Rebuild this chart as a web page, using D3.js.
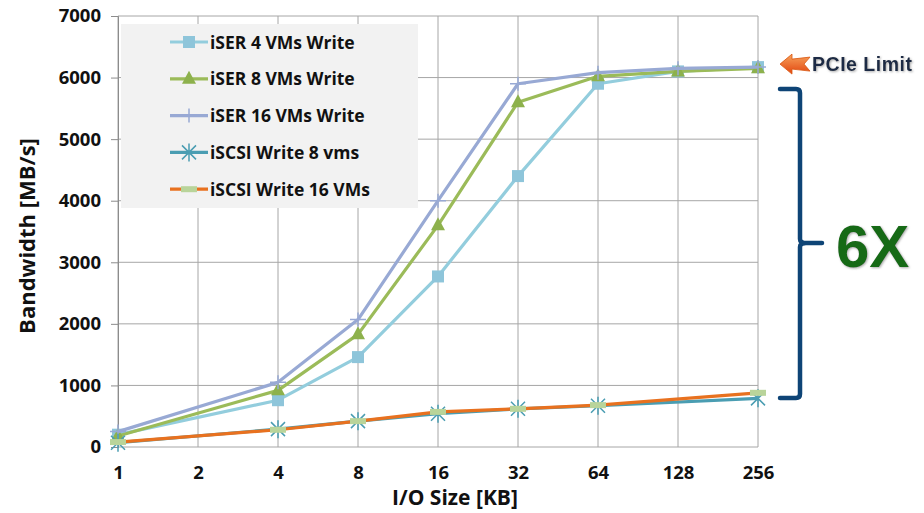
<!DOCTYPE html>
<html>
<head>
<meta charset="utf-8">
<script src="https://cdn.jsdelivr.net/npm/d3@7"></script>
<style>
  body { margin: 0; background: #fff; }
  svg { display: block; font-family: "Open Sans", "Lato", sans-serif; }
</style>
</head>
<body>
<div id="chart"></div>
<script>
// categories (I/O size KB) and series values (MB/s); null = no point measured
const sizes = ["1", "2", "4", "8", "16", "32", "64", "128", "256"];
const iser4 = [200, null, 760, 1460, 2770, 4400, 5900, 6100, 6170];
const iser8 = [180, null, 920, 1830, 3600, 5600, 6020, 6100, 6150];
const iser16 = [250, null, 1050, 2070, 4000, 5900, 6080, 6150, 6170];
const iscsi8 = [70, null, 290, 420, 540, 620, 670, null, 790];
const iscsi16 = [80, null, 280, 420, 570, 620, 680, null, 880];
const yTicks = [0, 1000, 2000, 3000, 4000, 5000, 6000, 7000];

const series = [
  { name: "iSER 4 VMs Write", values: iser4, color: "#93CDDD", marker: "square", mcolor: "#8EC5DA" },
  { name: "iSER 8 VMs Write", values: iser8, color: "#9BBB59", marker: "triangle", mcolor: "#8DB14C" },
  { name: "iSER 16 VMs Write", values: iser16, color: "#98A9D4", marker: "plus", mcolor: "#98A9D4" },
  { name: "iSCSI Write 8 vms", values: iscsi8, color: "#4A9DB2", marker: "star", mcolor: "#4A9DB2" },
  { name: "iSCSI Write 16 VMs", values: iscsi16, color: "#E8711F", marker: "dash", mcolor: "#B9D49A" }
];

const W = 924, H = 513;
const plot = { left: 118, right: 758, top: 16, bottom: 447 };

const svg = d3.select("#chart").append("svg").attr("width", W).attr("height", H);

const x = d3.scalePoint().domain(sizes).range([plot.left, plot.right]);
const y = d3.scaleLinear().domain([0, 7000]).range([plot.bottom, plot.top]);

// gridlines
const grid = svg.append("g");
grid.selectAll(".hg").data(yTicks).enter().append("line")
  .attr("x1", plot.left).attr("x2", plot.right)
  .attr("y1", d => y(d)).attr("y2", d => y(d))
  .attr("stroke", "#a6a6a6").attr("stroke-width", 1);
grid.selectAll(".vg").data(sizes).enter().append("line")
  .attr("x1", d => x(d)).attr("x2", d => x(d))
  .attr("y1", plot.top).attr("y2", plot.bottom)
  .attr("stroke", "#a6a6a6").attr("stroke-width", 1);

// axes
const gy = svg.append("g").attr("transform", `translate(${plot.left},0)`)
  .call(d3.axisLeft(y).tickValues(yTicks).tickFormat(d3.format("d")).tickSize(7).tickPadding(10));
const gx = svg.append("g").attr("transform", `translate(0,${plot.bottom})`)
  .call(d3.axisBottom(x).tickSize(0).tickPadding(19));
[gy, gx].forEach(a => {
  a.select(".domain").attr("stroke", "#8c8c8c");
  a.selectAll(".tick line").attr("stroke", "#8c8c8c");
  a.selectAll("text").attr("fill", "#111").style("font-size", "18.5px").style("font-weight", "bold")
    .style("font-family", "'Open Sans', Lato, sans-serif");
});
gx.select(".domain").remove();

// axis titles
svg.append("text").attr("transform", "translate(35,236) rotate(-90)")
  .attr("text-anchor", "middle").style("font-size", "22px").style("font-weight", "bold")
  .attr("fill", "#111").text("Bandwidth [MB/s]");
svg.append("text").attr("x", 455).attr("y", 505)
  .attr("text-anchor", "middle").style("font-size", "21px").style("font-weight", "bold")
  .attr("fill", "#111").text("I/O Size [KB]");

// markers
function drawMarker(g, type, cx, cy, s) {
  if (type === "square") {
    g.append("rect").attr("x", cx - 6).attr("y", cy - 6).attr("width", 12).attr("height", 12).attr("fill", s.mcolor);
  } else if (type === "triangle") {
    g.append("path").attr("d", `M${cx},${cy - 8}L${cx + 7},${cy + 5}L${cx - 7},${cy + 5}Z`).attr("fill", s.mcolor);
  } else if (type === "plus") {
    g.append("path").attr("d", `M${cx - 8},${cy}H${cx + 8}M${cx},${cy - 7}V${cy + 7}`)
      .attr("stroke", s.mcolor).attr("stroke-width", 1.5);
  } else if (type === "star") {
    g.append("path").attr("d", `M${cx - 7},${cy - 7}L${cx + 7},${cy + 7}M${cx + 7},${cy - 7}L${cx - 7},${cy + 7}M${cx},${cy - 9}V${cy + 9}`)
      .attr("stroke", s.mcolor).attr("stroke-width", 1.5);
  } else if (type === "dash") {
    g.append("rect").attr("x", cx - 8).attr("y", cy - 3).attr("width", 16).attr("height", 6).attr("fill", s.mcolor);
  }
}

const lineGen = d3.line().x(d => x(d.size)).y(d => y(d.value));
const linesG = svg.append("g");
series.forEach(s => {
  const pts = sizes.map((sz, i) => ({ size: sz, value: s.values[i] })).filter(d => d.value !== null);
  const g = linesG.append("g");
  g.append("path").datum(pts).attr("d", lineGen)
    .attr("fill", "none").attr("stroke", s.color).attr("stroke-width", 3.2).attr("stroke-linejoin", "round");
  pts.forEach(d => drawMarker(g, s.marker, x(d.size), y(d.value), s));
});

// legend
const legend = svg.append("g");
legend.append("rect").attr("x", 121).attr("y", 24).attr("width", 297).attr("height", 184).attr("fill", "#f2f2f2");
series.forEach((s, i) => {
  const ly = 42 + i * 36.8;
  const g = legend.append("g");
  g.append("line").attr("x1", 170).attr("x2", 208).attr("y1", ly).attr("y2", ly)
    .attr("stroke", s.color).attr("stroke-width", 3.2);
  drawMarker(g, s.marker, 189, ly, s);
  g.append("text").attr("x", 210).attr("y", ly + 6.5).attr("fill", "#111")
    .style("font-size", "17.5px").style("font-weight", "bold").text(s.name);
});

// PCIe limit annotation
const defs = svg.append("defs");
const grad = defs.append("linearGradient").attr("id", "arrowGrad").attr("x1", 0).attr("x2", 0).attr("y1", 0).attr("y2", 1);
grad.append("stop").attr("offset", "0%").attr("stop-color", "#f7a35c");
grad.append("stop").attr("offset", "100%").attr("stop-color", "#e2450f");
const shadow = defs.append("filter").attr("id", "shadow");
shadow.append("feDropShadow").attr("dx", 1).attr("dy", 1).attr("stdDeviation", 0.8).attr("flood-color", "#888").attr("flood-opacity", 0.7);

const pY = y(6170) - 3;
svg.append("path")
  .attr("d", `M780,${pY} L792,${pY - 10} L792,${pY - 5} L810,${pY - 7} L804,${pY} L810,${pY + 7} L792,${pY + 5} L792,${pY + 10} Z`)
  .attr("fill", "url(#arrowGrad)").attr("stroke", "#d9560f").attr("stroke-width", 0.8);
svg.append("text").attr("x", 812).attr("y", pY + 7).attr("fill", "#1c2c44")
  .style("font-size", "19.5px").style("font-weight", "bold").style("font-family", "Liberation Sans, Arial, sans-serif")
  .attr("textLength", 100).attr("filter", "url(#shadow)").text("PCIe Limit");

// brace from PCIe limit down to iSCSI level
const bTop = 89, bBot = 398, bMid = 243, bx = 800;
svg.append("path")
  .attr("d", `M780,${bTop} H796 Q${bx},${bTop} ${bx},${bTop + 4} V${bMid - 4} Q${bx},${bMid} ${bx + 6},${bMid} H822
              M${bx + 6},${bMid} Q${bx},${bMid} ${bx},${bMid + 4} V${bBot - 4} Q${bx},${bBot} 796,${bBot} H780`)
  .attr("fill", "none").attr("stroke", "#0e4476").attr("stroke-width", 4.5).attr("stroke-linecap", "round");

svg.append("text").attr("x", 836).attr("y", 267).attr("fill", "#176b16")
  .style("font-size", "60px").style("font-weight", "900").style("font-family", "Liberation Sans, Arial, sans-serif")
  .attr("filter", "url(#shadow)").text("6X");
</script>
</body>
</html>
